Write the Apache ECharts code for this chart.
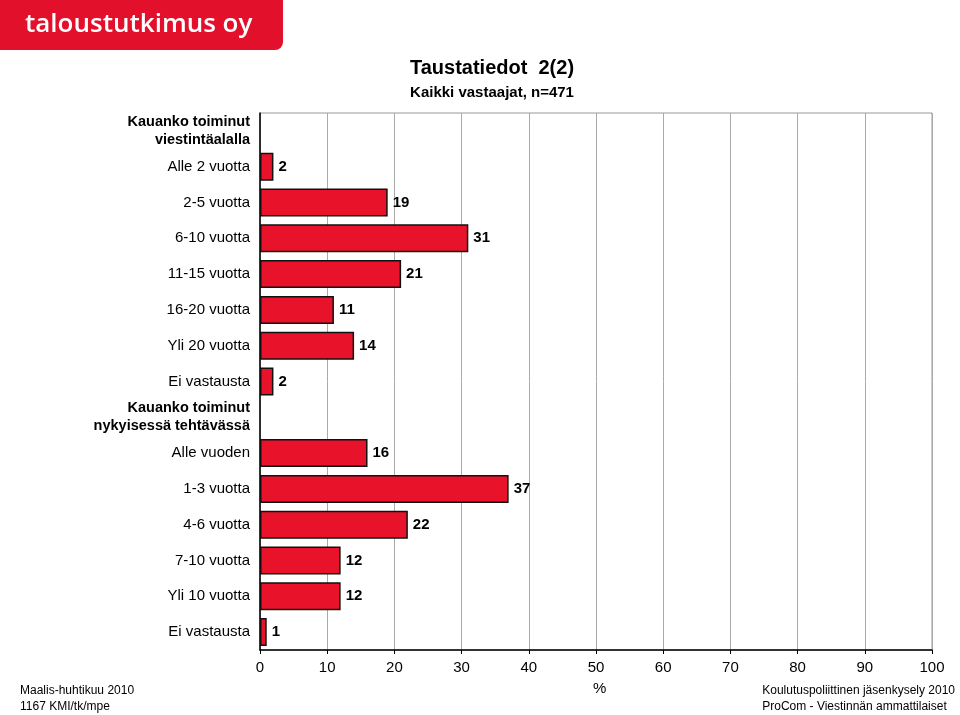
<!DOCTYPE html>
<html><head><meta charset="utf-8">
<script src="https://cdn.jsdelivr.net/npm/echarts@6/dist/echarts.min.js"></script>
<style>html,body{margin:0;padding:0;background:#fff}#c{width:960px;height:715px}</style>
</head><body><div id="c"></div>
<script>
const categories = [
  'H:Kauanko toiminut\nviestintäalalla',
  'Alle 2 vuotta','2-5 vuotta','6-10 vuotta','11-15 vuotta','16-20 vuotta','Yli 20 vuotta','Ei vastausta',
  'H:Kauanko toiminut\nnykyisessä tehtävässä',
  'Alle vuoden','1-3 vuotta','4-6 vuotta','7-10 vuotta','Yli 10 vuotta','Ei vastausta '
];
const values = [null, 2, 19, 31, 21, 11, 14, 2, null, 16, 37, 22, 12, 12, 1];
const xTicks = [0,10,20,30,40,50,60,70,80,90,100];

const FONT = '"Liberation Sans", Arial, sans-serif';
const chart = echarts.init(document.getElementById('c'));
chart.setOption({
  animation: false,
  textStyle: {fontFamily: FONT},
  graphic: [
    {type:'rect', left:0, top:0, shape:{width:283, height:50, r:[0,0,8,0]}, style:{fill:'#e3102c'}},
    {type:'text', left:25, top:12, style:{text:'taloustutkimus oy', fill:'#fff', font:'600 26px "Open Sans", sans-serif'}},
    {type:'text', left:20, top:683, style:{text:'Maalis-huhtikuu 2010\n1167 KMI/tk/mpe', fill:'#000', font:'12px '+FONT, lineHeight:16}},
    {type:'text', right:5, top:683, style:{text:'Koulutuspoliittinen jäsenkysely 2010\nProCom - Viestinnän ammattilaiset', fill:'#000', font:'12px '+FONT, lineHeight:16, align:'right'}},
    {type:'text', left:593, top:681, style:{text:'%', fill:'#000', font:'15px '+FONT}}
  ],
  title: {
    text: 'Taustatiedot  2(2)', subtext: 'Kaikki vastaajat, n=471',
    left: 487, textAlign: 'center', top: 53, itemGap: 7,
    textStyle: {fontSize: 20, fontWeight: 'bold', color: '#000', fontFamily: FONT},
    subtextStyle: {fontSize: 15, fontWeight: 'bold', color: '#000', fontFamily: FONT}
  },
  grid: {left: 260, right: 28, top: 113, bottom: 65, show: true, borderColor: '#999', borderWidth: 1},
  xAxis: {
    type: 'value', min: 0, max: 100, interval: 10,
    axisLine: {show: true, lineStyle: {color: '#000', width: 1.5}},
    axisTick: {show: true, length: 4, lineStyle: {color: '#000'}},
    axisLabel: {color: '#000', fontSize: 15, margin: 10, fontFamily: FONT},
    splitLine: {show: true, lineStyle: {color: '#aaa', width: 1}}
  },
  yAxis: {
    type: 'category', data: categories, inverse: true,
    axisLine: {show: true, lineStyle: {color: '#000', width: 1.5}},
    axisTick: {show: false},
    axisLabel: {
      color: '#000', fontSize: 15, margin: 10, fontFamily: FONT, lineHeight: 18,
      formatter: function (v) {
        if (v.indexOf('H:') === 0) {
          return v.slice(2).split('\n').map(s => '{h|' + s + '}').join('\n');
        }
        return v.trim();
      },
      rich: {h: {fontWeight: 'bold', fontSize: 14.5, color: '#000', lineHeight: 18, fontFamily: FONT}}
    }
  },
  series: [{
    type: 'bar', data: values, barWidth: 28,
    itemStyle: {color: '#e8132b', borderColor: '#111', borderWidth: 1.5},
    label: {show: true, position: 'right', distance: 5, color: '#000', fontWeight: 'bold', fontSize: 15, fontFamily: FONT}
  }]
});
</script></body></html>
